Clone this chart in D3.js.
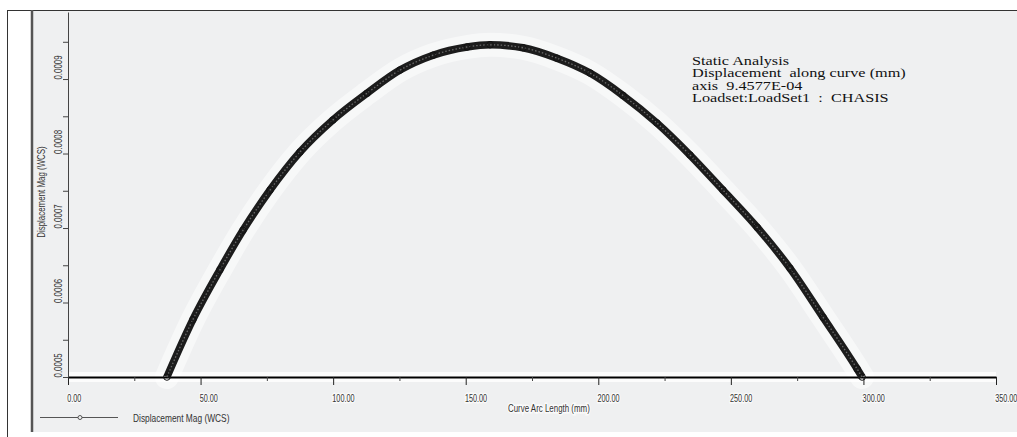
<!DOCTYPE html>
<html>
<head>
<meta charset="utf-8">
<script src="https://cdn.jsdelivr.net/npm/d3@7"></script>
<style>
  body { margin: 0; background: #fff; }
  svg { display: block; }
</style>
</head>
<body>
<script>
'use strict';

// Curve Arc Length (mm) vs Displacement Mag (WCS)
var arcLength = [37.3, 47.1, 57.3, 66.0, 76.2, 87.5, 99.9, 112.8, 125.2, 137.7, 150.5, 159.2,
                 171.6, 184.4, 196.9, 209.3, 222.1, 234.6, 247.0, 259.9, 272.3, 284.8, 297.6, 299.5];
var displacement = [0.000500, 0.000577, 0.000644, 0.000697, 0.000751, 0.000802, 0.000845, 0.000881,
                    0.000912, 0.000932, 0.000943, 0.000946, 0.000942, 0.000928, 0.000908, 0.000878,
                    0.000841, 0.000798, 0.000751, 0.000701, 0.000646, 0.000580, 0.000511, 0.000500];

var xMajor = [0, 50, 100, 150, 200, 250, 300, 350];
var xMinor = [25, 75, 125, 175, 225, 275, 325];
var yMajor = [0.0005, 0.0006, 0.0007, 0.0008, 0.0009];
var yMinor = [0.00055, 0.00065, 0.00075, 0.00085, 0.00095];

var noteLines = ["Static Analysis",
                 "Displacement  along curve (mm)",
                 "axis  9.4577E-04",
                 "Loadset:LoadSet1  :  CHASIS"];

var width = 1017, height = 437;
var sans = "'Liberation Sans', Arial, sans-serif";

var svg = d3.select("body").append("svg")
    .attr("width", width)
    .attr("height", height);

// frame
svg.append("rect").attr("x", 33).attr("y", 11).attr("width", width - 33).attr("height", 421)
    .attr("fill", "#eff0f1");
svg.append("line").attr("x1", 7).attr("x2", width).attr("y1", 10.5).attr("y2", 10.5)
    .attr("stroke", "#333").attr("stroke-width", 1);
svg.append("line").attr("x1", 7.5).attr("x2", 7.5).attr("y1", 10).attr("y2", height)
    .attr("stroke", "#333").attr("stroke-width", 1);
svg.append("line").attr("x1", 32).attr("x2", 32).attr("y1", 10).attr("y2", 432)
    .attr("stroke", "#555").attr("stroke-width", 2.5);

var x = d3.scaleLinear().domain([0, 350]).range([68, 996]);
var y = d3.scaleLinear().domain([0.0005, 0.00099]).range([377, 12]);

var data = arcLength.map(function(d, i) { return { s: d, v: displacement[i] }; });

var line = d3.line()
    .x(function(d) { return x(d.s); })
    .y(function(d) { return y(d.v); })
    .curve(d3.curveMonotoneX);

// soft white glow round the curve and axis
svg.append("path").datum(data).attr("d", line)
    .attr("fill", "none").attr("stroke", "#fff").attr("stroke-width", 24)
    .attr("stroke-opacity", 0.5).attr("stroke-linecap", "round");
svg.append("line").attr("x1", x(0)).attr("x2", x(350)).attr("y1", y(0.0005)).attr("y2", y(0.0005))
    .attr("stroke", "#fff").attr("stroke-width", 10).attr("stroke-opacity", 0.8);

// x axis
var xAxis = svg.append("g")
    .attr("transform", "translate(0," + y(0.0005) + ")")
    .call(d3.axisBottom(x).tickValues(xMajor).tickFormat(d3.format(".2f"))
          .tickSize(8).tickSizeOuter(0).tickPadding(10));
xAxis.select(".domain").attr("stroke", "#000").attr("stroke-width", 2);
xAxis.selectAll(".tick line").attr("stroke", "#222");
xAxis.selectAll(".tick text")
    .attr("text-anchor", "start")
    .attr("x", -2).attr("y", 25).attr("dy", 0)
    .attr("transform", "scale(0.66,1)")
    .attr("font-family", sans).attr("font-size", 11).attr("fill", "#333")
    .attr("stroke", "#fff").attr("stroke-width", 3).attr("stroke-opacity", 0.7)
    .attr("paint-order", "stroke");

svg.append("g")
    .attr("transform", "translate(0," + y(0.0005) + ")")
    .call(d3.axisBottom(x).tickValues(xMinor).tickFormat("").tickSize(4).tickSizeOuter(0))
    .call(function(g) { g.select(".domain").remove(); g.selectAll("line").attr("stroke", "#444"); });

// y axis
var yAxis = svg.append("g")
    .attr("transform", "translate(" + x(0) + ",0)")
    .call(d3.axisLeft(y).tickValues(yMajor).tickFormat(d3.format(".4f"))
          .tickSize(5).tickSizeOuter(0));
yAxis.select(".domain").attr("stroke", "#444");
yAxis.selectAll(".tick line").attr("stroke", "#444");
yAxis.selectAll(".tick text")
    .attr("text-anchor", "start")
    .attr("x", 0).attr("y", 0).attr("dy", 0)
    .attr("transform", "translate(-6,0) rotate(-90) scale(0.72,1)")
    .attr("font-family", sans).attr("font-size", 11).attr("fill", "#333");

svg.append("g")
    .attr("transform", "translate(" + x(0) + ",0)")
    .call(d3.axisLeft(y).tickValues(yMinor).tickFormat("").tickSize(5).tickSizeOuter(0))
    .call(function(g) { g.select(".domain").remove(); g.selectAll("line").attr("stroke", "#444"); });

svg.append("text")
    .attr("transform", "translate(45,192) rotate(-90) scale(0.72,1)")
    .attr("text-anchor", "middle")
    .attr("font-family", sans).attr("font-size", 11).attr("fill", "#333")
    .text("Displacement Mag (WCS)");

svg.append("text")
    .attr("transform", "translate(508,412) scale(0.72,1)")
    .attr("font-family", sans).attr("font-size", 11).attr("fill", "#333")
    .attr("stroke", "#fff").attr("stroke-width", 3).attr("stroke-opacity", 0.7)
    .attr("paint-order", "stroke")
    .text("Curve Arc Length (mm)");

// the curve: dense hollow markers make a dark band
svg.append("path").datum(data).attr("d", line)
    .attr("fill", "none").attr("stroke", "#1c1c1c").attr("stroke-width", 7.5);
svg.append("path").datum(data).attr("d", line)
    .attr("fill", "none").attr("stroke", "#8a8a8a").attr("stroke-width", 1.3)
    .attr("stroke-dasharray", "1.5,2").attr("stroke-opacity", 0.7);
svg.selectAll(".marker").data(data).enter().append("circle")
    .attr("class", "marker")
    .attr("cx", function(d) { return x(d.s); })
    .attr("cy", function(d) { return y(d.v); })
    .attr("r", 3.3)
    .attr("fill", "none").attr("stroke", "#111").attr("stroke-width", 1);

// legend
svg.append("line").attr("x1", 40).attr("x2", 118).attr("y1", 417.5).attr("y2", 417.5)
    .attr("stroke", "#555").attr("stroke-width", 1);
svg.append("circle").attr("cx", 80).attr("cy", 417.5).attr("r", 2)
    .attr("fill", "#eff0f1").attr("stroke", "#555");
svg.append("text")
    .attr("transform", "translate(133,422) scale(0.76,1)")
    .attr("font-family", sans).attr("font-size", 11).attr("fill", "#333")
    .text("Displacement Mag (WCS)");

// note block
var note = svg.append("g")
    .attr("transform", "translate(692,0) scale(1.3,1)");
note.selectAll("text").data(noteLines).enter().append("text")
    .attr("x", 0)
    .attr("y", function(d, i) { return 65 + i * 12.4; })
    .attr("font-family", "'Liberation Serif', 'Times New Roman', serif")
    .attr("font-size", 12.5).attr("fill", "#111")
    .style("white-space", "pre")
    .text(function(d) { return d; });
</script>
</body>
</html>
